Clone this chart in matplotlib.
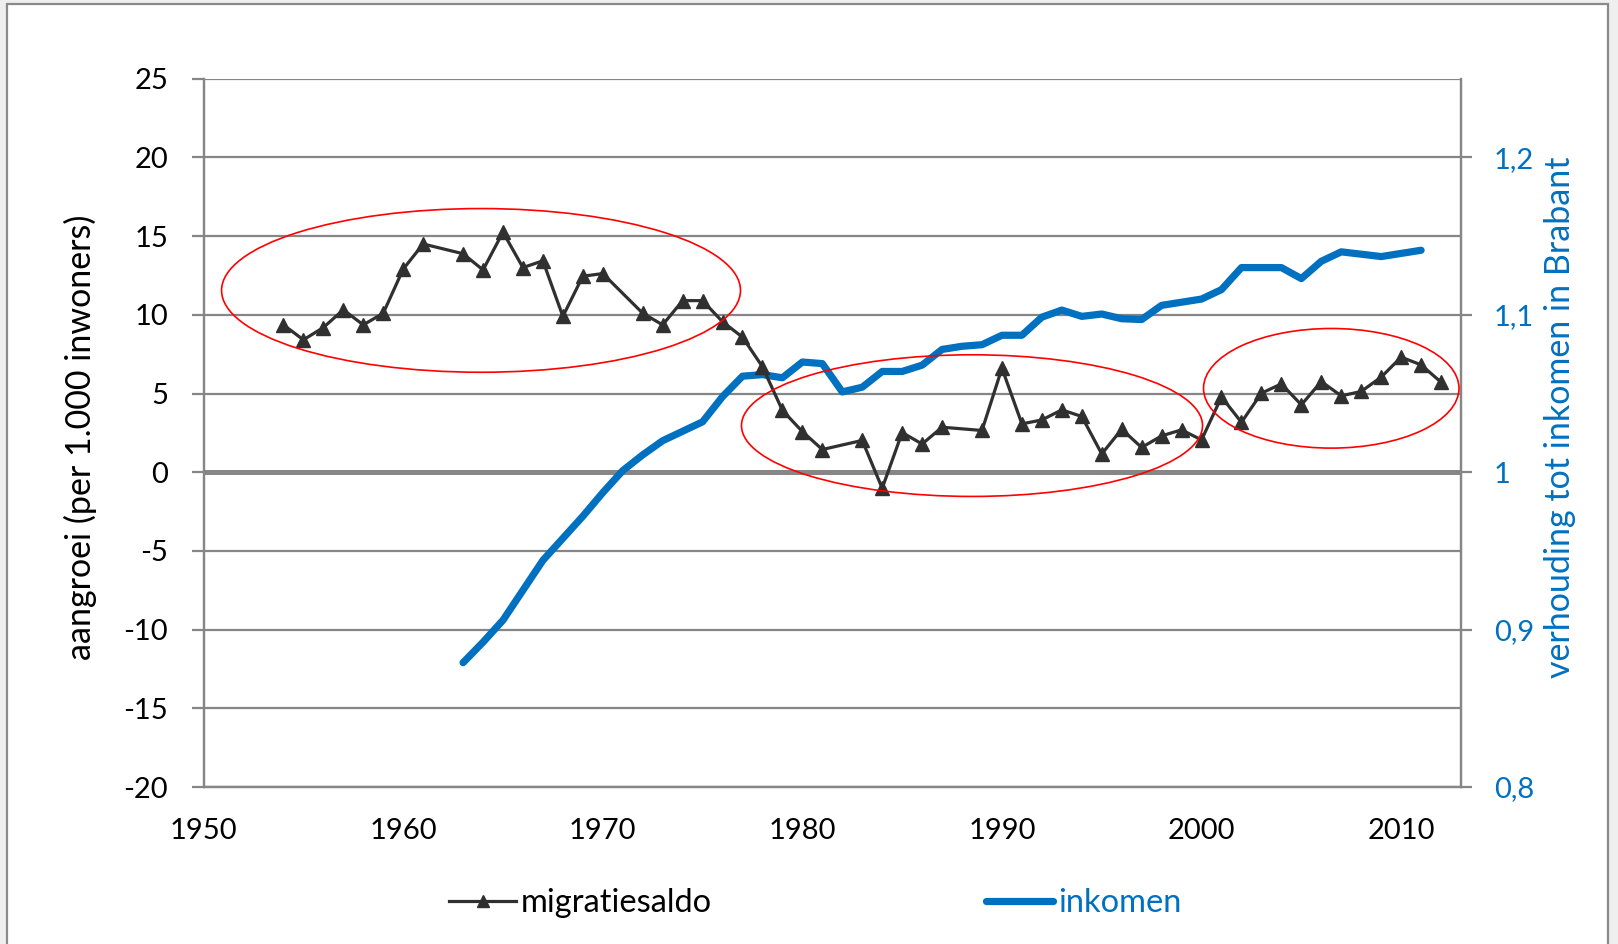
import matplotlib
matplotlib.use("Agg")
import matplotlib.pyplot as plt
from matplotlib.patches import Ellipse, Rectangle
from matplotlib.lines import Line2D

plt.rcParams['font.family'] = ['Lato', 'DejaVu Sans']

# === DATA ===
jaren_migratie = [1954, 1955, 1956, 1957, 1958, 1959, 1960, 1961,
                  1963, 1964, 1965, 1966, 1967, 1968, 1969, 1970,
                  1972, 1973, 1974, 1975, 1976, 1977, 1978, 1979, 1980, 1981,
                  1983, 1984, 1985, 1986, 1987,
                  1989, 1990, 1991, 1992, 1993, 1994, 1995, 1996, 1997, 1998,
                  1999, 2000, 2001, 2002, 2003, 2004, 2005, 2006, 2007, 2008,
                  2009, 2010, 2011, 2012]
migratiesaldo = [9.36, 8.41, 9.19, 10.32, 9.36, 10.1, 12.9, 14.5,
                 13.88, 12.85, 15.25, 13.0, 13.43, 9.9, 12.45, 12.62,
                 10.1, 9.36, 10.9, 10.9, 9.56, 8.58, 6.7, 3.93, 2.58, 1.44,
                 2.02, -1.02, 2.52, 1.79, 2.86,
                 2.65, 6.61, 3.07, 3.32, 3.96, 3.54, 1.16, 2.73, 1.57, 2.31,
                 2.69, 2.05, 4.78, 3.17, 5.02, 5.61, 4.28, 5.76, 4.85, 5.13,
                 6.04, 7.31, 6.82, 5.72]

jaren_inkomen = list(range(1963, 2012))
inkomen = [0.879, 0.892, 0.906, 0.925, 0.944, 0.958, 0.972, 0.987, 1.001, 1.011,
           1.020, 1.026, 1.032, 1.048, 1.061, 1.062, 1.060, 1.070, 1.069, 1.051,
           1.054, 1.064, 1.064, 1.068, 1.078, 1.080, 1.081, 1.087, 1.087, 1.0985,
           1.103, 1.099, 1.1005, 1.0975, 1.097, 1.106, 1.108, 1.110, 1.116, 1.130,
           1.130, 1.130, 1.123, 1.134, 1.140, 1.1385, 1.137, 1.139, 1.141]

links_ticks = [25, 20, 15, 10, 5, 0, -5, -10, -15, -20]
links_labels = ["25", "20", "15", "10", "5", "0", "-5", "-10", "-15", "-20"]
rechts_ticks = [1.2, 1.1, 1.0, 0.9, 0.8]
rechts_labels = ["1,2", "1,1", "1", "0,9", "0,8"]
x_ticks = [1950, 1960, 1970, 1980, 1990, 2000, 2010]

# omcirkelde periodes: (midden jaar, midden waarde, breedte, hoogte)
ellipsen = [(1963.9, 11.55, 26.0, 10.4),
            (1988.5, 2.96, 23.1, 9.0),
            (2006.5, 5.33, 12.8, 7.6)]

GRIJS = "#868686"
BLAUW = "#0070C0"
DONKER = "#303030"

# === FIGUUR ===
fig = plt.figure(figsize=(16.18, 9.44), dpi=100)
fig.patch.set_facecolor("#efefef")
fig.patches.append(Rectangle((7 / 1618, -0.01), 1601 / 1618, 1.01 - 4 / 944,
                             transform=fig.transFigure, facecolor="white",
                             edgecolor="#8a8a8a", lw=1.6, zorder=-5))

ax1 = fig.add_axes([203.6 / 1618, 1 - 787 / 944, 1257.4 / 1618, 708.3 / 944])
ax2 = ax1.twinx()
ax1.set_zorder(2)
ax2.set_zorder(1)
ax1.patch.set_visible(False)

ax1.set_xlim(1950, 2013)
ax1.set_ylim(-20, 25)
ax2.set_ylim(0.8, 1.25)

# rasterlijnen
ax1.set_yticks(links_ticks)
ax1.set_yticklabels(links_labels)
ax1.set_axisbelow(True)
ax1.yaxis.grid(True, color=GRIJS, lw=1.6)
ax1.axhline(0, color=GRIJS, lw=3.6, zorder=1)

# inkomen (rechter as), onder de migratielijn
ax1.plot(jaren_inkomen, inkomen, color=BLAUW, lw=5.2, solid_capstyle="round",
         solid_joinstyle="round", transform=ax2.transData, zorder=2)
ax1.plot(jaren_migratie, migratiesaldo, color=DONKER, lw=2.3, marker="^",
         markersize=9.5, zorder=3)

for cx, cy, w, h in ellipsen:
    ax1.add_patch(Ellipse((cx, cy), w, h, fill=False, edgecolor="#ff0000",
                          lw=1.2, zorder=4, clip_on=False))

# assen
for ax in (ax1, ax2):
    ax.spines["top"].set_visible(False)
    for s in ("left", "right", "bottom"):
        ax.spines[s].set_color(GRIJS)
        ax.spines[s].set_linewidth(1.6)

ax1.set_xticks(x_ticks)
ax1.tick_params(axis="x", length=0, pad=22, labelsize=21, colors="black")
ax1.tick_params(axis="y", direction="out", length=8.5, width=1.6, color=GRIJS,
                pad=17, labelsize=21, labelcolor="black")

ax2.set_yticks(rechts_ticks)
ax2.set_yticklabels(rechts_labels)
ax2.tick_params(axis="y", direction="out", length=7.7, width=1.6, color=GRIJS,
                pad=16, labelsize=21, labelcolor=BLAUW)

ax1.set_ylabel("aangroei (per 1.000 inwoners)", fontsize=24.5, va="center")
ax1.yaxis.set_label_coords(-0.098, 0.494)
ax2.set_ylabel("verhouding tot inkomen in Brabant", fontsize=24.5, color=BLAUW,
               va="center")
ax2.yaxis.set_label_coords(1.079, 0.522)

# legenda
handles = [Line2D([], [], color=DONKER, lw=2.3, marker="^", markersize=8),
           Line2D([], [], color=BLAUW, lw=5.2, solid_capstyle="round")]
leg = fig.legend(handles, ["migratiesaldo", "inkomen"], loc="center",
                 bbox_to_anchor=(0.504, 0.0434), ncol=2, frameon=False,
                 fontsize=23.5, handlelength=2.05, handletextpad=0.15,
                 columnspacing=8.4)
leg.get_texts()[1].set_color(BLAUW)

fig.savefig("out.png", dpi=100, facecolor=fig.get_facecolor())
